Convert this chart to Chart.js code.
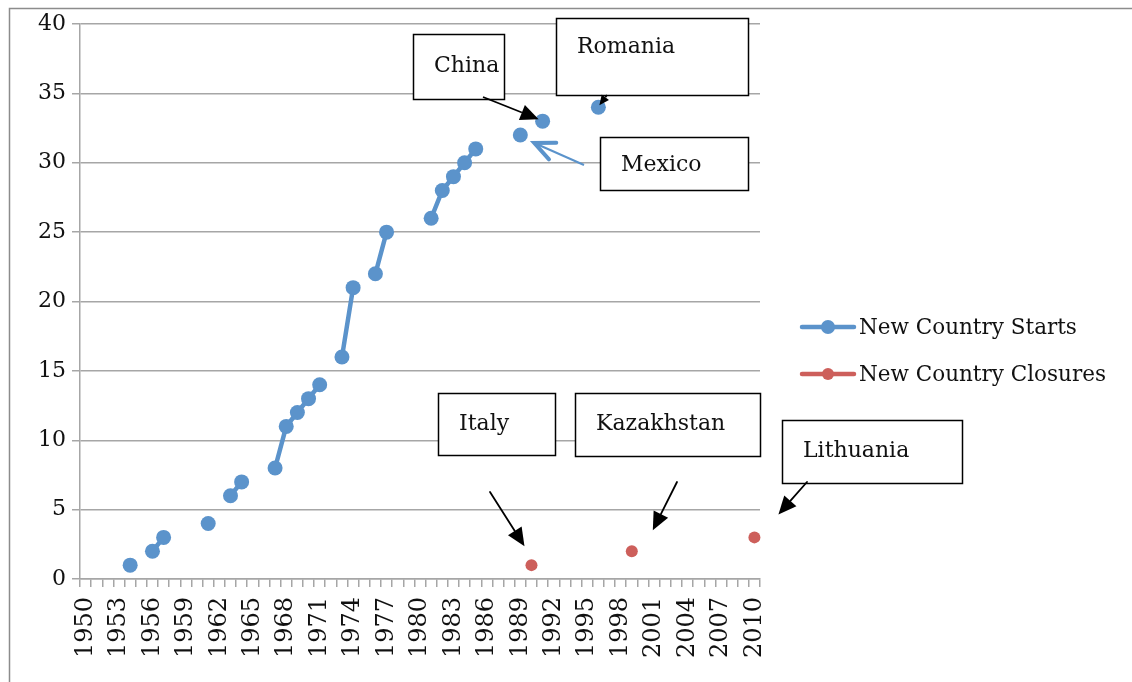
<!DOCTYPE html>
<html>
<head>
<meta charset="utf-8">
<script src="https://cdn.jsdelivr.net/npm/chart.js"></script>
<style>
  html, body { margin: 0; padding: 0; background: #fff; }
  #wrap { position: relative; width: 1132px; height: 682px; }
</style>
</head>
<body>
<div id="wrap"><canvas id="myChart" width="1132" height="682"></canvas></div>
<script>
// categories: every year 1950..2010
const firstYear = 1950;
const lastYear = 2010;
const years = [];
for (let y = firstYear; y <= lastYear; y++) years.push(String(y));

// New Country Starts (cumulative)
const startYears  = [1954, 1956, 1957, 1961, 1963, 1964, 1967, 1968, 1969, 1970, 1971, 1973, 1974, 1976, 1977, 1981, 1982, 1983, 1984, 1985, 1989, 1991, 1996];
const startValues = [1, 2, 3, 4, 6, 7, 8, 11, 12, 13, 14, 16, 21, 22, 25, 26, 28, 29, 30, 31, 32, 33, 34];

// New Country Closures (cumulative)
const closureYears  = [1990, 1999, 2010];
const closureValues = [1, 2, 3];

const yTicks = [0, 5, 10, 15, 20, 25, 30, 35, 40];
const seriesNames = ["New Country Starts", "New Country Closures"];
const seriesColors = ["#5b93cb", "#cd5f5b"];

// callouts: text, box, arrow start, arrow tip relative to a data point
const callouts = [
  { text: "China",      box: [413, 34, 91, 65],   from: [483, 97],  at: ["1991", 33], tip: [-4, -2],  head: 18, color: "#000", open: false },
  { text: "Romania",    box: [556, 18, 192, 77],  from: [607, 95],  at: ["1996", 34], tip: [1, -2],   head: 10, color: "#000", open: false, textDy: -9 },
  { text: "Mexico",     box: [600, 137, 148, 53], from: [584, 165], at: ["1989", 32], tip: [14, 8],   head: 20, color: "#5b93cb", open: true, textDy: 2 },
  { text: "Italy",      box: [438, 393, 117, 62], from: [490, 492], at: ["1990", 1],  tip: [-7, -19], head: 18, color: "#000", open: false },
  { text: "Kazakhstan", box: [575, 393, 185, 63], from: [677, 482], at: ["1999", 2],  tip: [21, -21], head: 18, color: "#000", open: false },
  { text: "Lithuania",  box: [782, 420, 180, 63], from: [807, 482], at: ["2010", 3],  tip: [24, -23], head: 18, color: "#000", open: false }
];

function toSlots(ys, vs) {
  const out = years.map(() => null);
  ys.forEach((y, i) => { out[y - firstYear] = vs[i]; });
  return out;
}

const serif = "'DejaVu Serif', serif";

const frame = {
  id: 'frame',
  beforeDraw(chart) {
    const ctx = chart.ctx;
    ctx.save();
    ctx.strokeStyle = '#8c8c8c';
    ctx.lineWidth = 1.5;
    ctx.strokeRect(9.5, 8.5, 1140, 700);
    ctx.restore();
  }
};

function arrow(ctx, x1, y1, x2, y2, head, color, open) {
  const ang = Math.atan2(y2 - y1, x2 - x1);
  const w = head * 0.45;
  const bx = x2 - head * Math.cos(ang), by = y2 - head * Math.sin(ang);
  const px = -Math.sin(ang) * w, py = Math.cos(ang) * w;
  ctx.strokeStyle = color;
  ctx.fillStyle = color;
  ctx.lineWidth = open ? 2 : 1.8;
  ctx.beginPath();
  ctx.moveTo(x1, y1);
  ctx.lineTo(open ? x2 : bx, open ? y2 : by);
  ctx.stroke();
  if (open) {
    ctx.lineWidth = 4;
    ctx.lineCap = 'round';
    ctx.beginPath();
    ctx.moveTo(bx + px, by + py);
    ctx.lineTo(x2, y2);
    ctx.lineTo(bx - px, by - py);
    ctx.stroke();
  } else {
    ctx.beginPath();
    ctx.moveTo(x2, y2);
    ctx.lineTo(bx + px, by + py);
    ctx.lineTo(bx - px, by - py);
    ctx.closePath();
    ctx.fill();
  }
}

const notes = {
  id: 'notes',
  afterDraw(chart) {
    const ctx = chart.ctx;
    const xs = chart.scales.x, ys = chart.scales.y;
    ctx.save();
    callouts.forEach(c => {
      const [bx, by, bw, bh] = c.box;
      ctx.fillStyle = '#fff';
      ctx.fillRect(bx, by, bw, bh);
      ctx.strokeStyle = '#000';
      ctx.lineWidth = 1.5;
      ctx.strokeRect(bx + 0.5, by + 0.5, bw, bh);
      ctx.fillStyle = '#111';
      ctx.font = "22px " + serif;
      ctx.textBaseline = 'middle';
      ctx.textAlign = 'left';
      ctx.fillText(c.text, bx + 21, by + bh / 2 + (c.textDy || 0));
      const tx = xs.getPixelForValue(years.indexOf(c.at[0])) + c.tip[0];
      const ty = ys.getPixelForValue(c.at[1]) + c.tip[1];
      arrow(ctx, c.from[0], c.from[1], tx, ty, c.head, c.color, c.open);
    });

    // legend
    seriesNames.forEach((name, i) => {
      const ly = 327 + i * 47;
      ctx.strokeStyle = seriesColors[i];
      ctx.lineWidth = 4.5;
      ctx.lineCap = 'round';
      ctx.beginPath();
      ctx.moveTo(802, ly);
      ctx.lineTo(854, ly);
      ctx.stroke();
      ctx.fillStyle = seriesColors[i];
      ctx.beginPath();
      ctx.arc(828, ly, i === 0 ? 7 : 6, 0, Math.PI * 2);
      ctx.fill();
      ctx.fillStyle = '#111';
      ctx.font = "21.5px " + serif;
      ctx.textAlign = 'left';
      ctx.textBaseline = 'middle';
      ctx.fillText(name, 859, ly + 1);
    });
    ctx.restore();
  }
};

new Chart("myChart", {
  type: "line",
  data: {
    labels: years,
    datasets: [{
      label: seriesNames[0],
      data: toSlots(startYears, startValues),
      borderColor: seriesColors[0],
      backgroundColor: seriesColors[0],
      borderWidth: 4.5,
      pointRadius: 7.5,
      pointHoverRadius: 7.5,
      pointBorderWidth: 0,
      spanGaps: false
    }, {
      label: seriesNames[1],
      data: toSlots(closureYears, closureValues),
      borderColor: seriesColors[1],
      backgroundColor: seriesColors[1],
      borderWidth: 4.5,
      pointRadius: 6,
      pointHoverRadius: 6,
      pointBorderWidth: 0,
      spanGaps: false
    }]
  },
  options: {
    responsive: false,
    animation: false,
    layout: { padding: { top: 24, right: 372, left: 0, bottom: 0 } },
    plugins: {
      legend: { display: false },
      title: { display: false },
      tooltip: { enabled: false }
    },
    scales: {
      x: {
        offset: true,
        grid: {
          offset: true,
          drawOnChartArea: false,
          drawTicks: true,
          tickLength: 8,
          color: '#a6a6a6',
          lineWidth: 1.5
        },
        border: { display: true, color: '#a6a6a6', width: 1.5 },
        ticks: {
          autoSkip: false,
          minRotation: 90,
          maxRotation: 90,
          padding: 10,
          color: '#111',
          font: { family: serif, size: 24 },
          callback: function(v, i) {
            return (i % 3 === 0) ? years[i] : '';
          }
        },
        afterFit(scale) { scale.height = 103; }
      },
      y: {
        min: yTicks[0],
        max: yTicks[yTicks.length - 1],
        afterBuildTicks(scale) { scale.ticks = yTicks.map(v => ({ value: v })); },
        grid: {
          color: '#a6a6a6',
          lineWidth: 1.5,
          tickLength: 8
        },
        border: { display: true, color: '#a6a6a6', width: 1.5 },
        ticks: {
          padding: 6,
          color: '#111',
          font: { family: serif, size: 22 }
        },
        afterFit(scale) { scale.width = 80; }
      }
    }
  },
  plugins: [frame, notes]
});
</script>
</body>
</html>
